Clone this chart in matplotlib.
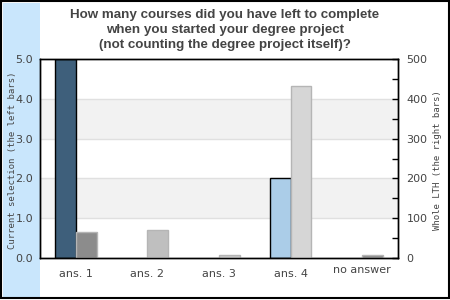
import matplotlib
matplotlib.use('Agg')
import matplotlib.pyplot as plt
from matplotlib.patches import Rectangle
import numpy as np

# %% data
categories = ['ans. 1', 'ans. 2', 'ans. 3', 'ans. 4', 'no answer']
selection = [5, 0, 0, 2, 0]
whole_lth = [66, 70, 8, 433, 7]
sel_colors = ['#3e5f7b', '#3e5f7b', '#3e5f7b', '#abcde8', '#3e5f7b']
lth_colors = ['#8c8c8c', '#bfbfbf', '#c9c9c9', '#d6d6d6', '#8c8c8c']
title = ('How many courses did you have left to complete\n'
         'when you started your degree project\n'
         '(not counting the degree project itself)?')

# %% plot
W, H = 450, 300
fig = plt.figure(figsize=(4.5, 3), dpi=100)
fig.patch.set_facecolor('white')

# side strip + frame
fig.patches.append(Rectangle((3 / W, 3 / H), 37 / W, 294 / H, transform=fig.transFigure,
                             facecolor='#c9e6fc', edgecolor='none', zorder=-5))
fig.patches.append(Rectangle((0.5 / W, 2 / H), 448 / W, 297 / H, transform=fig.transFigure,
                             facecolor='none', edgecolor='black', lw=1.5, zorder=5))

ax = fig.add_axes([40 / W, 42 / H, 358 / W, 199 / H])
ax2 = ax.twinx()

x = np.arange(len(categories))
bw = 0.29

for lo, hi in [(1, 2), (3, 4)]:
  ax.axhspan(lo, hi, color='#f2f2f2', zorder=0, lw=0)
for v in [1, 2, 3, 4]:
  ax.axhline(v, color='#e0e0e0', lw=1, zorder=0.5)

for i in range(len(categories)):
  if selection[i] > 0:
    ax.bar(x[i] - bw / 2, selection[i], width=bw, color=sel_colors[i],
           edgecolor='black', lw=1, zorder=2)
  ax2.bar(x[i] + bw / 2, whole_lth[i], width=bw, color=lth_colors[i],
          edgecolor='#b5b5b5', lw=1, zorder=2)

ax.set_xlim(-0.5, len(categories) - 0.5)
ax.set_ylim(0, 5)
ax2.set_ylim(0, 500)
ax.set_yticks(np.arange(0, 5.1, 1))
ax.set_yticklabels([f'{v:.1f}' for v in np.arange(0, 5.1, 1)])
ax2.set_yticks(np.arange(0, 501, 100))
ax2.set_yticks(np.arange(50, 500, 100), minor=True)

ax.tick_params(axis='y', length=0, pad=5, labelsize=8, labelcolor='#444444',
               left=False, right=False, labelleft=True, labelright=False)
ax.tick_params(axis='x', length=0, pad=8, labelsize=8, labelcolor='#444444')
ax2.tick_params(axis='y', which='both', direction='in', length=4, width=1, pad=6,
                labelsize=8, labelcolor='#444444', left=False, labelleft=False,
                right=True, labelright=True)
ax.set_xticks(x)
ax.set_xticklabels(categories)
ax.get_xticklabels()[-1].set_y(0.02)

for a in (ax, ax2):
  for s in a.spines.values():
    s.set_color('black')
    s.set_linewidth(1)

fig.text(8 / W, 140 / H, 'Current selection (the left bars)', rotation=90, ha='left',
         va='center', family='DejaVu Sans Mono', fontsize=6.5, color='#444444')
fig.text(437 / W, 140 / H, 'Whole LTH (the right bars)', rotation=90, ha='center',
         va='center', family='DejaVu Sans Mono', fontsize=6.5, color='#444444')
fig.text(225 / W, 1 - 30 / H, title, ha='center', va='center', fontsize=9.6,
         fontweight='bold', family='Liberation Sans', color='#444444', linespacing=1.3)

fig.savefig('out.png', dpi=100)
